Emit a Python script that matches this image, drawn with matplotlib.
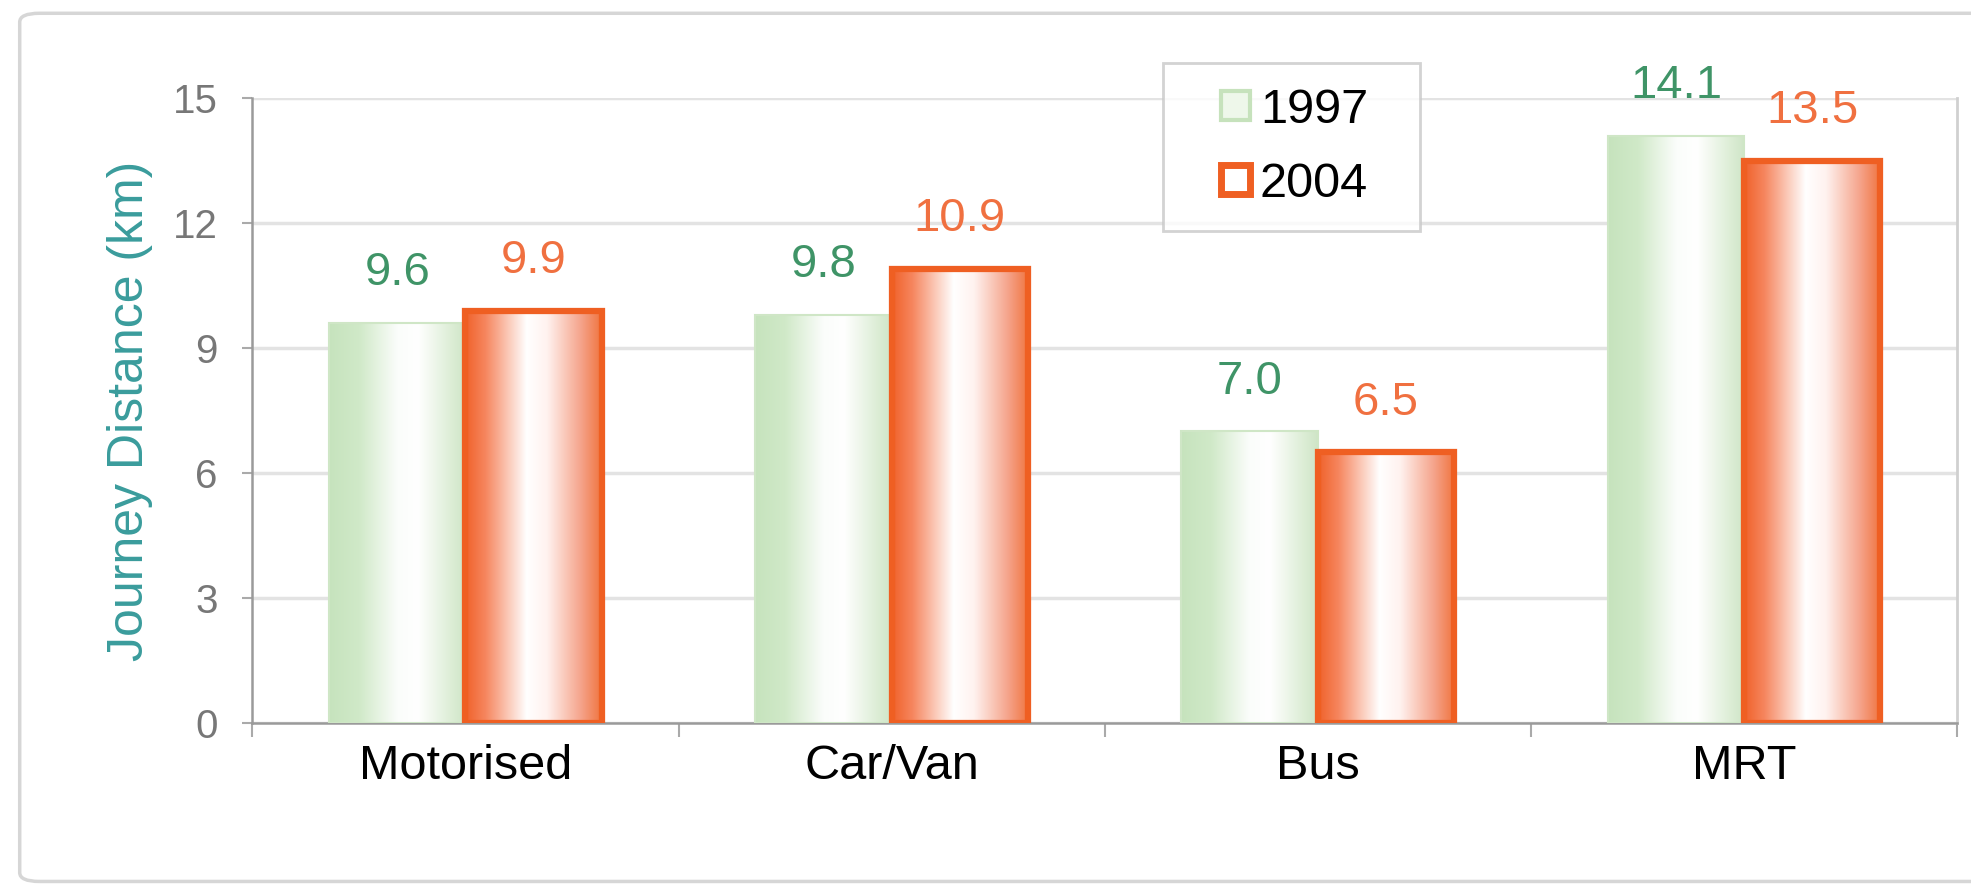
import numpy as np
import matplotlib
matplotlib.use("Agg")
import matplotlib.pyplot as plt
from matplotlib.patches import Rectangle, FancyBboxPatch
from matplotlib.legend_handler import HandlerPatch
from matplotlib.colors import to_rgb

plt.rcParams["font.family"] = ["Liberation Sans", "DejaVu Sans"]

# Data
categories = ["Motorised", "Car/Van", "Bus", "MRT"]
years = ["1997", "2004"]
dist_1997 = [9.6, 9.8, 7.0, 14.1]
dist_2004 = [9.9, 10.9, 6.5, 13.5]
y_ticks = [0, 3, 6, 9, 12, 15]


def gradient(stops, n=256):
    # horizontal colour ramp as a 1 x n RGB image
    pos = np.array([s[0] for s in stops])
    cols = np.array([to_rgb(s[1]) for s in stops])
    xs = np.linspace(0, 1, n)
    img = np.stack([np.interp(xs, pos, cols[:, i]) for i in range(3)], axis=-1)
    return img[np.newaxis, :, :]


green_grad = gradient([(0, "#c6e3bd"), (0.22, "#d0e9c8"), (0.5, "#fbfdfb"),
                       (0.65, "#ffffff"), (0.9, "#dcedd5"), (1, "#cfe5c7")])
orange_grad = gradient([(0, "#f0622a"), (0.15, "#f6865f"), (0.45, "#ffffff"),
                        (0.6, "#fff2ef"), (0.85, "#f5a38a"), (1, "#f0743f")])


class SquareAtRight(HandlerPatch):
    # square marker pushed to the right end of the handle box
    def create_artists(self, legend, orig_handle, xdescent, ydescent, width, height, fontsize, trans):
        side = height * 0.85
        p = Rectangle((width - side - xdescent, -ydescent + (height - side) / 2), side, side)
        self.update_prop(p, orig_handle, legend)
        p.set_transform(trans)
        return [p]


fig = plt.figure(figsize=(19.71, 8.85), dpi=100)
ax = fig.add_axes([0.128, 0.183, 0.865, 0.706])

# outer frame
fig.patches.append(FancyBboxPatch((0.01, 0.004), 1.2, 0.981, boxstyle="round,pad=0,rounding_size=0.01",
                                  transform=fig.transFigure, facecolor="none",
                                  edgecolor="#d6d6d6", linewidth=2.5))

width = 0.32
x = np.arange(len(categories))

for i in range(len(categories)):
    # 1997 bar
    x0 = x[i] - width
    h = dist_1997[i]
    ax.imshow(green_grad, extent=(x0, x0 + width, 0, h), aspect="auto",
              interpolation="bilinear", zorder=2)
    ax.add_patch(Rectangle((x0, 0), width, h, facecolor="none",
                           edgecolor="#cfe6c6", linewidth=1.5, zorder=3))
    ax.annotate(f"{h:.1f}", (x0 + width / 2, h), xytext=(0, 20), textcoords="offset points",
                ha="center", va="bottom", fontsize=34, color="#3f9467")
    # 2004 bar
    x1 = x[i]
    h = dist_2004[i]
    ax.imshow(orange_grad, extent=(x1, x1 + width, 0, h), aspect="auto",
              interpolation="bilinear", zorder=2)
    ax.add_patch(Rectangle((x1, 0), width, h, facecolor="none",
                           edgecolor="#ef5f22", linewidth=4.5, zorder=3))
    ax.annotate(f"{h:.1f}", (x1 + width / 2, h), xytext=(0, 20), textcoords="offset points",
                ha="center", va="bottom", fontsize=34, color="#f07040")

ax.set_xlim(-0.5, len(categories) - 0.5)
ax.set_ylim(0, 15)

# grid and axes styling
ax.set_yticks(y_ticks)
ax.set_yticklabels([str(t) for t in y_ticks])
ax.yaxis.grid(True, color="#e3e3e3", linewidth=2.5)
ax.set_axisbelow(True)
ax.tick_params(axis="y", labelsize=29, labelcolor="#777777", color="#aaaaaa",
               length=7, width=1.5, pad=18)

ax.set_xticks(x)
ax.set_xticklabels(categories)
ax.set_xticks(np.arange(-0.5, len(categories)), minor=True)
ax.tick_params(axis="x", which="major", length=0, labelsize=35, pad=15)
ax.tick_params(axis="x", which="minor", length=10, width=1.5, color="#aaaaaa")

for side in ["left", "bottom"]:
    ax.spines[side].set_color("#9a9a9a")
    ax.spines[side].set_linewidth(1.8)
ax.spines["right"].set_color("#d0d0d0")
ax.spines["right"].set_linewidth(2)
ax.spines["top"].set_visible(False)

ax.set_ylabel("Journey Distance (km)", fontsize=36, color="#3a9c9c")
ax.yaxis.set_label_coords(-0.058, 0.5)

# legend
handles = [Rectangle((0, 0), 1, 1, facecolor="#eef7ea", edgecolor="#c6e2bc", linewidth=3),
           Rectangle((0, 0), 1, 1, facecolor="white", edgecolor="#ef5f22", linewidth=5)]
leg = ax.legend(handles, years, loc="upper left", bbox_to_anchor=(0.534, 1.056, 0.151, 0.0),
                mode="expand", fontsize=35, frameon=True, fancybox=False, handlelength=1.3,
                handleheight=0.7, handletextpad=0.2, borderpad=0.5, labelspacing=0.6,
                borderaxespad=0,
                handler_map={Rectangle: SquareAtRight()})
leg.get_frame().set_edgecolor("#c8c8c8")
leg.get_frame().set_linewidth(2)

fig.savefig("out.png", dpi=100)
